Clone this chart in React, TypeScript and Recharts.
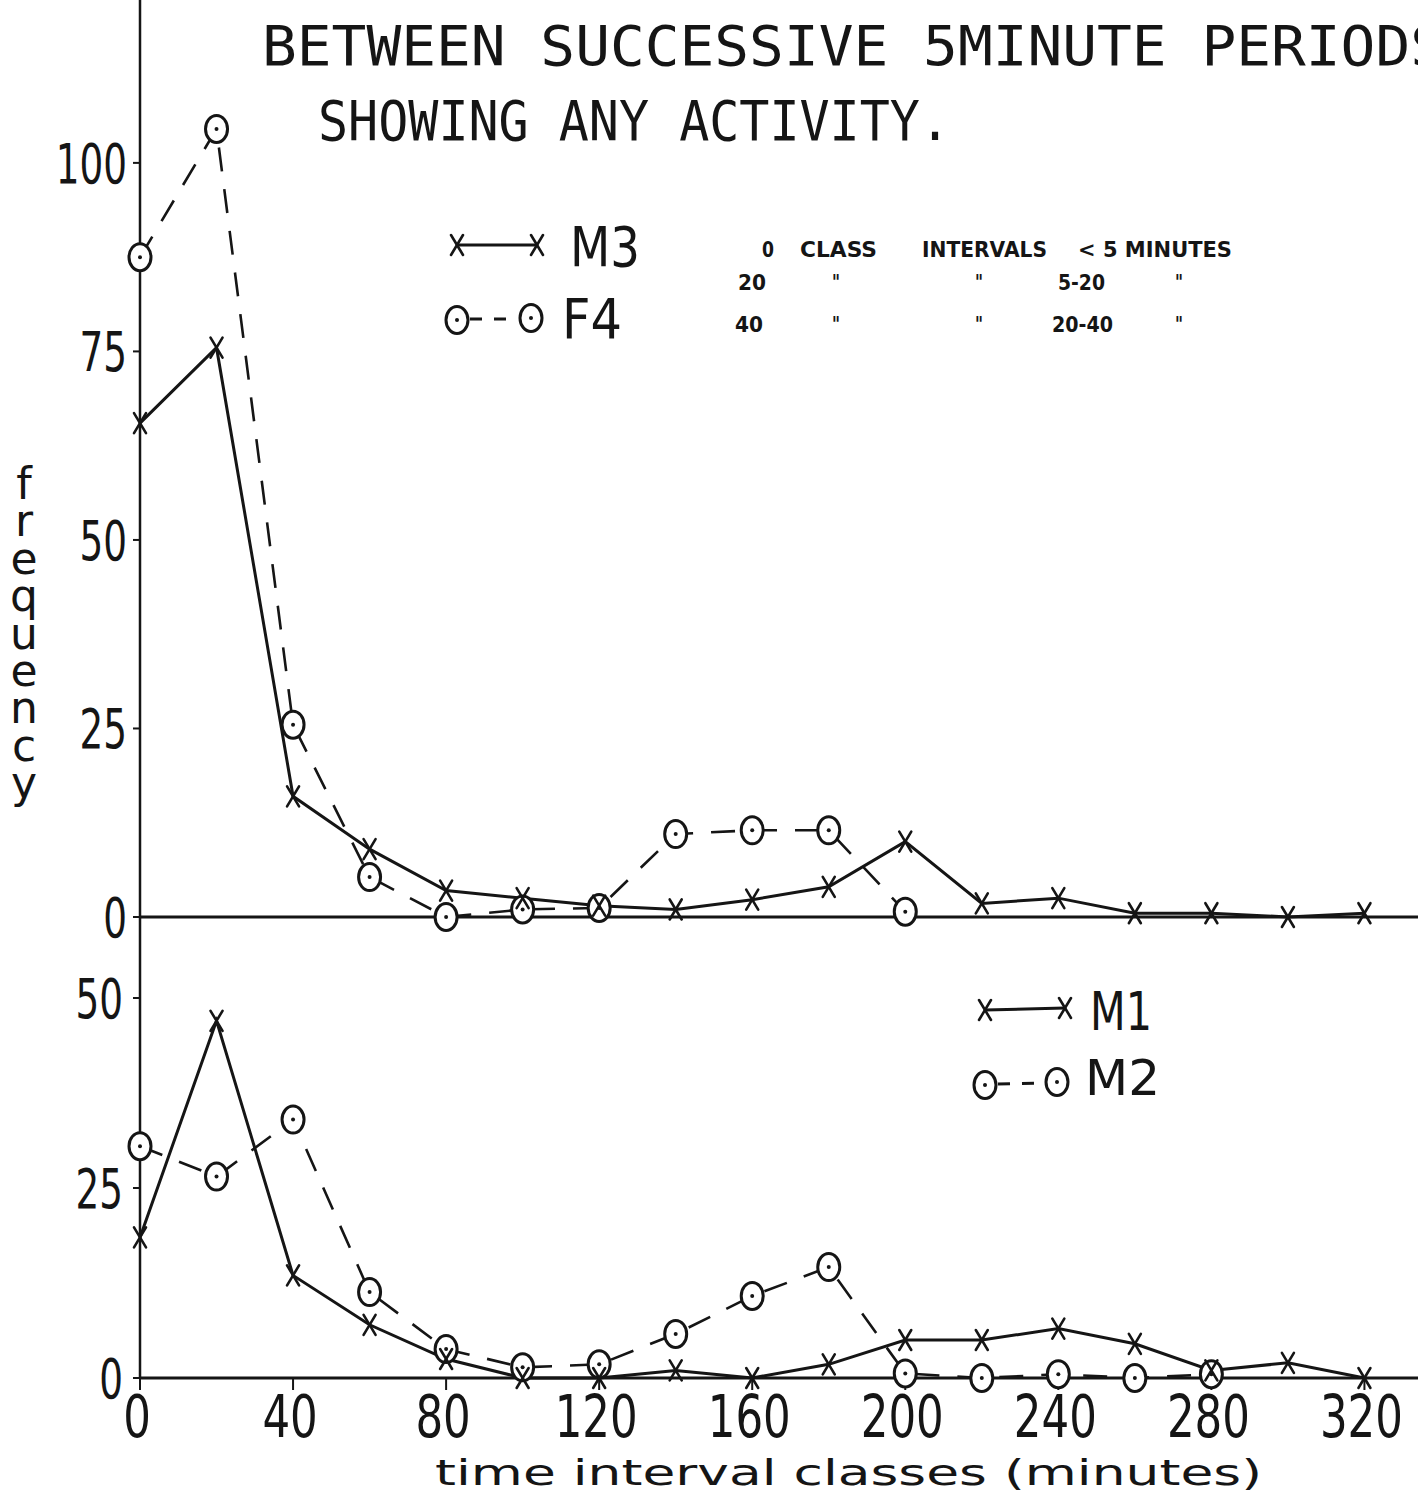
import React from "react";
import { LineChart, Line, XAxis, YAxis } from "recharts";

// class labels (minutes) on the x axis
const classes = [0, 20, 40, 60, 80, 100, 120, 140, 160, 180, 200, 220, 240, 260, 280, 300, 320];

// upper panel
const m3 = [65.5, 75.5, 16, 9, 3.5, 2.5, 1.5, 1, 2.3, 4, 10, 1.8, 2.5, 0.5, 0.5, 0, 0.5];
const f4 = [87.5, 104.5, 25.5, 5.3, 0, 1, 1.2, 11, 11.5, 11.5, 0.7, null, null, null, null, null, null];

// lower panel
const m1 = [18.5, 47, 13.5, 7, 2.5, 0, 0, 1, 0, 1.8, 5, 5, 6.5, 4.5, 1, 2, 0];
const m2 = [30.5, 26.5, 34, 11.3, 3.8, 1.4, 1.8, 5.8, 10.8, 14.6, 0.6, 0, 0.5, 0, 0.5, null, null];

const topTicks = [0, 25, 50, 75, 100];
const bottomTicks = [0, 25, 50];
const xTicks = [0, 40, 80, 120, 160, 200, 240, 280, 320];

const titleLines = ["BETWEEN  SUCCESSIVE 5MINUTE PERIODS", "SHOWING ANY ACTIVITY."];
const yLabel = "frequency";
const xLabel = "time interval classes (minutes)";

const noteRows = [
  ["0", "CLASS", "INTERVALS", "< 5 MINUTES", ""],
  ["20", "\"", "\"", "5-20", "\""],
  ["40", "\"", "\"", "20-40", "\""],
];

const INK = "#151515";
const FONT = "'DejaVu Sans', sans-serif";

const topData = classes.map((x, i) => ({ x, m3: m3[i], f4: f4[i] }));
const bottomData = classes.map((x, i) => ({ x, m1: m1[i], m2: m2[i] }));

const Cross = ({ cx, cy }: { cx: number; cy: number }) => (
  <g stroke={INK} strokeWidth={2.6} strokeLinecap="round">
    <line x1={cx - 6} y1={cy - 10} x2={cx + 6} y2={cy + 10} />
    <line x1={cx + 6} y1={cy - 10} x2={cx - 6} y2={cy + 10} />
  </g>
);

const Ring = ({ cx, cy }: { cx: number; cy: number }) => (
  <g>
    <ellipse cx={cx} cy={cy} rx={11} ry={13.5} fill="#fff" stroke={INK} strokeWidth={3} />
    <circle cx={cx} cy={cy} r={2} fill={INK} />
  </g>
);

const crossDot = (p: any) =>
  p.value == null || p.cy == null ? <g key={`c${p.index}`} /> : <Cross key={`c${p.index}`} cx={p.cx} cy={p.cy} />;
const ringDot = (p: any) =>
  p.value == null || p.cy == null ? <g key={`r${p.index}`} /> : <Ring key={`r${p.index}`} cx={p.cx} cy={p.cy} />;

const YTick = (props: any) => {
  const { x, y, payload } = props;
  return (
    <g transform={`translate(${x},${y})`}>
      <text textAnchor="end" dy="0.36em" fontSize={55} fill={INK} fontFamily={FONT} transform="scale(0.68,1)">
        {payload.value}
      </text>
    </g>
  );
};

const XTick = (props: any) => {
  const { x, y, payload } = props;
  return (
    <g transform={`translate(${x - 3},${y})`}>
      <text textAnchor="middle" dy="0.71em" fontSize={58} fill={INK} fontFamily={FONT} transform="scale(0.75,1)">
        {payload.value}
      </text>
    </g>
  );
};

const Overlay = () => (
  <svg width={1418} height={1494} style={{ position: "absolute", left: 0, top: 0, pointerEvents: "none" }}>
    <g fill={INK} fontFamily="'DejaVu Sans Mono', monospace" fontSize={55}>
      <text x={262} y={65} textLength={1183} lengthAdjust="spacingAndGlyphs">{titleLines[0]}</text>
      <text x={318} y={140} textLength={632} lengthAdjust="spacingAndGlyphs">{titleLines[1]}</text>
    </g>

    {/* upper legend */}
    <line x1={457} y1={245} x2={537} y2={245} stroke={INK} strokeWidth={3} />
    <Cross cx={457} cy={245} />
    <Cross cx={537} cy={245} />
    <text x={570} y={266} fontSize={56} fill={INK} fontFamily={FONT} textLength={70} lengthAdjust="spacingAndGlyphs">M3</text>
    <line x1={470} y1={319} x2={518} y2={319} stroke={INK} strokeWidth={3} strokeDasharray="12 12" />
    <Ring cx={457} cy={320} />
    <Ring cx={531} cy={318} />
    <text x={562} y={338} fontSize={56} fill={INK} fontFamily={FONT} textLength={60} lengthAdjust="spacingAndGlyphs">F4</text>

    {/* class note */}
    <g fill={INK} fontFamily={FONT} fontWeight="bold" fontSize={21}>
      {noteRows.map((row, r) => {
        const y = [257, 290, 332][r];
        const xs = r === 0 ? [762, 800, 922, 1078, 1175] : [738 - (r === 2 ? 3 : 0), 832, 975, r === 1 ? 1058 : 1052, 1175];
        const ws = r === 0 ? [12, 77, 125, 154, 0] : [28, 8, 8, r === 1 ? 47 : 61, 8];
        return row.map((t, i) =>
          t ? (
            <text key={`${r}-${i}`} x={xs[i]} y={y} textLength={ws[i]} lengthAdjust="spacingAndGlyphs">{t}</text>
          ) : null
        );
      })}
    </g>

    {/* lower legend */}
    <line x1={985} y1={1010} x2={1065} y2={1008} stroke={INK} strokeWidth={3} />
    <Cross cx={985} cy={1010} />
    <Cross cx={1065} cy={1008} />
    <text x={1090} y={1030} fontSize={54} fill={INK} fontFamily={FONT} textLength={62} lengthAdjust="spacingAndGlyphs">M1</text>
    <line x1={998} y1={1084} x2={1045} y2={1083} stroke={INK} strokeWidth={3} strokeDasharray="12 12" />
    <Ring cx={985} cy={1085} />
    <Ring cx={1057} cy={1082} />
    <text x={1085} y={1095} fontSize={50} fill={INK} fontFamily={FONT} textLength={75} lengthAdjust="spacingAndGlyphs">M2</text>

    {/* y label, letters stacked upright */}
    <text
      x={24}
      y={458}
      fill={INK}
      fontFamily={FONT}
      fontSize={44}
      textLength={350}
      lengthAdjust="spacing"
      style={{ writingMode: "vertical-rl", textOrientation: "upright" } as React.CSSProperties}
    >
      {yLabel}
    </text>

    <text x={435} y={1485} fontSize={36} fill={INK} fontFamily={FONT} textLength={827} lengthAdjust="spacingAndGlyphs">
      {xLabel}
    </text>
  </svg>
);

export default function App() {
  return (
    <div style={{ position: "absolute", left: 0, top: 0, width: 1418, height: 1494, background: "#fff", fontFamily: FONT, overflow: "hidden" }}>
      <Overlay />
      <div style={{ position: "absolute", left: 0, top: 0 }}>
        <LineChart width={1418} height={960} data={topData} margin={{ top: 0, right: 0, bottom: 0, left: 0 }}>
          <XAxis dataKey="x" type="number" domain={[0, 334]} ticks={[]} tick={false} tickLine={false} height={43} axisLine={{ stroke: INK, strokeWidth: 3 }} />
          <YAxis
            type="number"
            domain={[0, 121.6]}
            ticks={topTicks}
            width={140}
            tick={<YTick />}
            tickSize={7}
            tickMargin={6}
            tickLine={{ stroke: INK, strokeWidth: 2 }}
            axisLine={{ stroke: INK, strokeWidth: 2.5 }}
          />
          <Line dataKey="f4" type="linear" stroke={INK} strokeWidth={2.6} strokeDasharray="24 18" dot={ringDot} isAnimationActive={false} connectNulls={false} />
          <Line dataKey="m3" type="linear" stroke={INK} strokeWidth={3} dot={crossDot} isAnimationActive={false} />
        </LineChart>
      </div>
      <div style={{ position: "absolute", left: 0, top: 917 }}>
        <LineChart width={1418} height={577} data={bottomData} margin={{ top: 0, right: 0, bottom: 0, left: 0 }}>
          <XAxis
            dataKey="x"
            type="number"
            domain={[0, 334]}
            ticks={xTicks}
            height={116}
            tick={<XTick />}
            tickSize={12}
            tickMargin={6}
            tickLine={{ stroke: INK, strokeWidth: 2 }}
            axisLine={{ stroke: INK, strokeWidth: 3 }}
          />
          <YAxis
            type="number"
            domain={[0, 60.66]}
            ticks={bottomTicks}
            width={140}
            tick={<YTick />}
            tickSize={7}
            tickMargin={10}
            tickLine={{ stroke: INK, strokeWidth: 2 }}
            axisLine={{ stroke: INK, strokeWidth: 2.5 }}
          />
          <Line dataKey="m2" type="linear" stroke={INK} strokeWidth={2.6} strokeDasharray="24 18" dot={ringDot} isAnimationActive={false} />
          <Line dataKey="m1" type="linear" stroke={INK} strokeWidth={3} dot={crossDot} isAnimationActive={false} />
        </LineChart>
      </div>
    </div>
  );
}
